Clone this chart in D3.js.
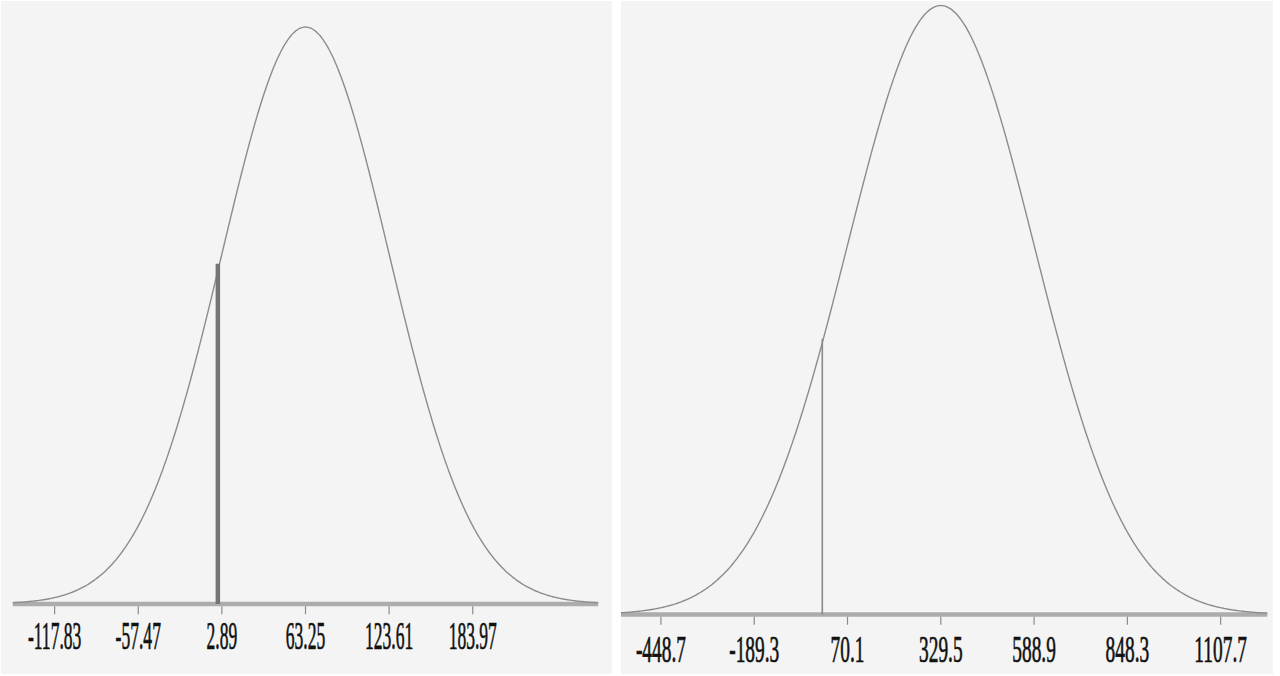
<!DOCTYPE html>
<html>
<head>
<meta charset="utf-8">
<script src="https://cdn.jsdelivr.net/npm/d3@7"></script>
<style>
  html, body { margin: 0; padding: 0; background: #ffffff; }
  svg { display: block; }
</style>
</head>
<body>
<svg id="chart" width="1280" height="676"></svg>
<script>
// ---- data ----
const leftMean = 63.25;
const leftSd = 60.36;
const leftTicks = [-117.83, -57.47, 2.89, 63.25, 123.61, 183.97];
const leftMarker = 0;

const rightMean = 329.5;
const rightSd = 259.4;
const rightTicks = [-448.7, -189.3, 70.1, 329.5, 588.9, 848.3, 1107.7];
const rightMarker = 0;

// ---- layout ----
const svg = d3.select("#chart");

const panels = [
  { mean: leftMean, sd: leftSd, ticks: leftTicks, marker: leftMarker,
    box: [1, 1, 612, 674], xr: [12.8, 598.2], base: 604, peak: 27,
    axisW: 4.5, markW: 4.5, markColor: "#767676", labelY: 649, fontSize: 39, sx: 0.45, markTop: 7 },
  { mean: rightMean, sd: rightSd, ticks: rightTicks, marker: rightMarker,
    box: [621, 1, 1273, 674], xr: [614.3, 1267.3], base: 614.5, peak: 5.5,
    axisW: 4.5, markW: 1.6, markColor: "#888888", labelY: 662, fontSize: 38, sx: 0.51, markTop: 4 }
];

const defs = svg.append("defs");

panels.forEach((p, i) => {
  const [x0, y0, x1, y1] = p.box;
  defs.append("clipPath").attr("id", "clip" + i)
    .append("rect").attr("x", x0).attr("y", y0).attr("width", x1 - x0).attr("height", y1 - y0);

  const g = svg.append("g").attr("clip-path", `url(#clip${i})`);
  g.append("rect").attr("x", x0).attr("y", y0).attr("width", x1 - x0).attr("height", y1 - y0)
    .attr("fill", "#f4f4f4");

  const dom = [p.mean - 3.5 * p.sd, p.mean + 3.5 * p.sd];
  const x = d3.scaleLinear().domain(dom).range(p.xr);
  const pdf = v => Math.exp(-0.5 * Math.pow((v - p.mean) / p.sd, 2));
  const y = d3.scaleLinear().domain([0, 1]).range([p.base, p.peak]);

  // axis line
  g.append("line").attr("x1", x(dom[0])).attr("x2", x(dom[1]))
    .attr("y1", p.base).attr("y2", p.base)
    .attr("stroke", "#acacac").attr("stroke-width", p.axisW);

  // ticks
  const tg = g.append("g");
  p.ticks.forEach(t => {
    tg.append("line").attr("x1", x(t)).attr("x2", x(t))
      .attr("y1", p.base + p.axisW / 2).attr("y2", p.base + p.axisW / 2 + 8)
      .attr("stroke", "#8a8a8a").attr("stroke-width", 1.2);
    tg.append("text")
      .attr("transform", `translate(${x(t)},${p.labelY}) scale(${p.sx},1)`)
      .attr("text-anchor", "middle")
      .attr("font-family", "'Liberation Serif', 'Times New Roman', serif")
      .attr("font-size", p.fontSize)
      .attr("fill", "#111")
      .attr("stroke", "#111")
      .attr("stroke-width", 0.7)
      .text(String(t));
  });

  // curve
  const pts = d3.range(0, 401).map(k => dom[0] + (dom[1] - dom[0]) * k / 400);
  g.append("path")
    .datum(pts)
    .attr("d", d3.line().x(v => x(v)).y(v => y(pdf(v))).curve(d3.curveBasis))
    .attr("fill", "none").attr("stroke", "#8c8c8c").attr("stroke-width", 1.4);

  // marker line
  g.append("line").attr("x1", x(p.marker)).attr("x2", x(p.marker))
    .attr("y1", p.base).attr("y2", y(pdf(p.marker)) - p.markTop)
    .attr("stroke", p.markColor).attr("stroke-width", p.markW);
});
</script>
</body>
</html>
